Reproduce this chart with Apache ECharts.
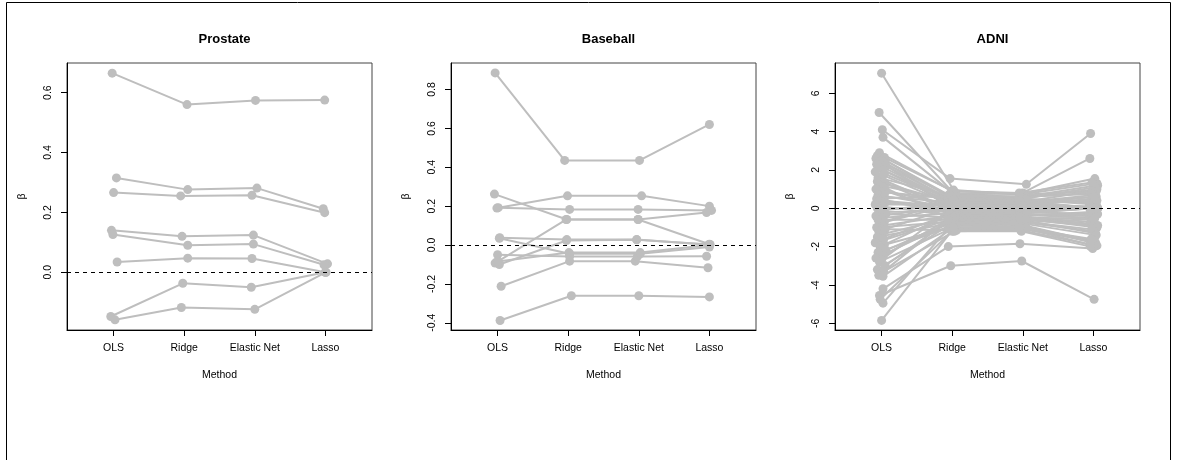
<!DOCTYPE html>
<html>
<head>
<meta charset="utf-8">
<script src="https://cdn.jsdelivr.net/npm/echarts@6/dist/echarts.min.js"></script>
<style>
  html, body { margin: 0; padding: 0; background: #fff; }
  #chart { width: 1177px; height: 460px; }
</style>
</head>
<body>
<div id="chart"></div>
<script>
// methods on the x axis, one row per coefficient: [OLS, Ridge, Elastic Net, Lasso]
var methods = ['OLS', 'Ridge', 'Elastic Net', 'Lasso'];
var panelTitles = ['Prostate', 'Baseball', 'ADNI'];

var prostateTicks = [0, 0.2, 0.4, 0.6];
var baseballTicks = [-0.4, -0.2, 0, 0.2, 0.4, 0.6, 0.8];
var adniTicks = [-6, -4, -2, 0, 2, 4, 6];

var prostateBeta = [
  [0.665, 0.560, 0.574, 0.575],
  [0.315, 0.276, 0.281, 0.212],
  [0.266, 0.255, 0.257, 0.199],
  [0.140, 0.120, 0.124, 0.028],
  [0.126, 0.090, 0.094, 0.025],
  [0.034, 0.047, 0.046, 0.000],
  [-0.148, -0.037, -0.050, 0.000],
  [-0.159, -0.118, -0.124, 0.000]
];
// horizontal jitter of each point (in method units), as seen in the plot
var prostateJitter = [
  [-0.02, 0.04, 0.01, -0.01],
  [0.04, 0.05, 0.03, -0.03],
  [0.00, -0.05, -0.04, -0.01],
  [-0.03, -0.03, -0.02, 0.03],
  [-0.01, 0.05, -0.02, -0.02],
  [0.05, 0.05, -0.04, 0.00],
  [-0.04, -0.02, -0.05, 0.00],
  [0.02, -0.04, 0.00, 0.01]
];

var baseballBeta = [
  [0.885, 0.435, 0.435, 0.620],
  [0.262, 0.131, 0.131, 0.004],
  [0.190, 0.253, 0.253, 0.200],
  [0.192, 0.183, 0.183, 0.178],
  [-0.093, 0.131, 0.131, 0.167],
  [-0.100, 0.023, 0.027, 0.003],
  [0.035, -0.045, -0.045, -0.010],
  [0.038, 0.028, 0.028, 0.002],
  [-0.212, -0.083, -0.083, -0.117],
  [-0.388, -0.261, -0.261, -0.267],
  [-0.050, -0.059, -0.059, -0.058],
  [-0.085, -0.039, -0.039, 0.000]
];
var baseballJitter = [
  [-0.035, -0.05, 0.01, 0.00],
  [-0.045, -0.02, -0.01, 0.00],
  [-0.01, -0.01, 0.04, 0.00],
  [0.01, 0.02, -0.01, 0.03],
  [-0.035, -0.03, -0.01, -0.04],
  [0.025, -0.025, -0.03, 0.01],
  [0.025, 0.02, 0.02, 0.00],
  [0.03, -0.02, -0.03, -0.01],
  [0.05, 0.02, -0.05, -0.02],
  [0.035, 0.045, 0.00, 0.00],
  [0.00, 0.02, -0.02, -0.04],
  [0.00, 0.01, 0.02, 0.00]
];

var adniBeta = [
  [7.05, 0.95, 0.70, 0.90],
  [5.00, 0.90, 0.75, 1.30],
  [4.10, 1.55, 1.25, 3.90],
  [3.70, 0.70, 0.80, 2.60],
  [-5.85, -1.10, -0.90, -1.80],
  [-4.95, -0.90, -0.95, -1.70],
  [-4.75, -1.20, -1.15, -1.95],
  [-4.55, -3.00, -2.75, -4.75],
  [-4.20, -2.00, -1.85, -2.10],
  [2.90, 0.80, 0.75, 1.55],
  [2.75, 0.60, 0.60, 1.20],
  [2.65, 0.90, 0.80, 1.35],
  [2.60, 0.50, 0.55, 1.00],
  [2.50, 0.70, 0.60, 0.80],
  [2.45, -0.20, -0.15, 0.00],
  [2.40, 0.40, 0.35, 0.60],
  [2.30, 0.30, 0.30, 0.00],
  [2.20, 0.55, 0.50, 1.10],
  [2.10, 0.20, 0.25, 0.40],
  [2.00, 0.45, 0.40, 0.00],
  [1.90, 0.10, 0.10, 0.00],
  [1.80, 0.35, 0.30, 0.70],
  [1.60, 0.60, 0.50, 0.30],
  [1.50, 0.00, 0.00, 0.00],
  [1.40, 0.25, 0.20, 0.50],
  [1.30, -0.10, -0.05, 0.00],
  [1.20, 0.40, 0.35, 0.90],
  [1.10, -0.55, -0.50, -0.90],
  [1.00, 0.15, 0.10, 0.00],
  [0.90, -0.20, -0.20, -0.30],
  [0.85, 0.50, 0.45, 0.20],
  [0.70, 0.05, 0.05, 0.00],
  [0.60, 0.30, 0.25, 0.40],
  [0.50, 0.65, 0.60, 0.75],
  [0.45, -0.30, -0.25, 0.00],
  [0.40, 0.10, 0.15, 0.10],
  [0.30, -0.05, 0.00, 0.00],
  [0.20, 0.20, 0.20, 0.60],
  [0.10, -0.40, -0.35, -0.50],
  [0.00, 0.00, 0.05, 0.00],
  [-0.10, 0.30, 0.25, 0.00],
  [-0.20, -0.15, -0.10, 0.00],
  [-0.30, -0.50, -0.45, -0.80],
  [-0.40, 0.05, 0.00, 0.00],
  [-0.50, -0.25, -0.20, 0.00],
  [-0.60, -0.60, -0.55, -1.00],
  [-0.70, 0.45, 0.40, 0.00],
  [-0.80, 0.15, 0.10, 0.00],
  [-0.90, -0.35, -0.30, -0.40],
  [-1.00, -0.70, -0.65, -1.30],
  [-1.10, -1.15, -1.10, -1.70],
  [-1.20, 0.00, -0.05, 0.00],
  [-1.35, -0.45, -0.40, -0.20],
  [-1.50, -0.80, -0.75, -1.20],
  [-1.60, -0.20, -0.20, 0.00],
  [-1.80, -0.55, -0.50, -0.70],
  [-1.90, -0.90, -0.85, -1.75],
  [-2.00, -0.30, -0.25, 0.00],
  [-2.20, -0.65, -0.60, -0.90],
  [-2.30, -1.00, -0.95, -1.80],
  [-2.50, -0.40, -0.35, -0.30],
  [-2.60, -0.75, -0.70, -1.10],
  [-2.70, 0.20, 0.15, 0.00],
  [-2.80, -1.10, -1.05, -1.90],
  [-3.00, -0.50, -0.45, -0.60],
  [-3.20, -0.85, -0.80, -1.40],
  [-3.30, -1.20, -1.20, -2.00],
  [-3.50, -0.60, -0.55, -0.50],
  [-3.55, -1.00, -1.00, -1.60]
];
var adniJitter = [
  [0.00, 0.02, -0.03, 0.04],
  [-0.035, -0.01, 0.03, 0.05],
  [0.01, -0.03, 0.05, -0.04],
  [0.02, 0.04, 0.00, -0.05],
  [0.00, 0.01, -0.02, 0.03],
  [0.02, -0.02, 0.04, -0.04],
  [-0.02, 0.00, -0.03, 0.05],
  [-0.03, -0.02, -0.015, 0.01],
  [0.02, -0.055, -0.04, -0.01],
  [-0.03, 0.05, -0.02, 0.02],
  [-0.06, -0.04, 0.03, 0.06],
  [0.04, 0.01, -0.05, -0.02],
  [-0.08, 0.03, 0.02, 0.05],
  [0.05, -0.05, 0.04, -0.03],
  [-0.02, 0.06, -0.01, 0.01],
  [0.03, -0.02, 0.05, 0.04],
  [-0.07, 0.04, -0.04, -0.05],
  [0.06, -0.06, 0.01, 0.03],
  [-0.04, 0.02, 0.06, -0.01],
  [0.02, -0.03, -0.05, 0.06],
  [-0.09, 0.05, 0.03, -0.04],
  [0.04, -0.01, -0.02, 0.02],
  [-0.05, 0.03, 0.04, -0.06],
  [0.01, -0.05, -0.03, 0.05],
  [-0.06, 0.06, 0.02, 0.00],
  [0.05, -0.04, -0.06, 0.03],
  [-0.03, 0.01, 0.05, -0.02],
  [0.03, -0.02, -0.01, 0.06],
  [-0.08, 0.04, 0.03, -0.05],
  [0.06, -0.06, -0.04, 0.01],
  [-0.01, 0.02, 0.06, 0.04],
  [-0.05, -0.03, -0.02, -0.03],
  [0.04, 0.05, 0.01, 0.05],
  [-0.07, -0.01, -0.05, -0.01],
  [0.02, 0.03, 0.04, 0.02],
  [-0.04, -0.05, -0.03, -0.06],
  [0.05, 0.06, 0.02, 0.04],
  [-0.09, -0.02, -0.06, 0.01],
  [0.01, 0.04, 0.05, -0.04],
  [-0.06, -0.04, -0.01, 0.06],
  [0.03, 0.01, 0.03, -0.02],
  [-0.02, -0.06, -0.04, 0.03],
  [0.06, 0.03, 0.06, -0.05],
  [-0.08, -0.01, -0.02, 0.02],
  [0.00, 0.05, 0.01, -0.03],
  [-0.05, -0.03, 0.04, 0.05],
  [0.04, 0.02, -0.05, -0.01],
  [-0.03, -0.05, 0.02, 0.04],
  [0.02, 0.04, -0.03, -0.06],
  [-0.07, -0.02, 0.05, 0.03],
  [0.05, 0.06, -0.01, -0.02],
  [-0.04, -0.04, 0.03, 0.06],
  [0.01, 0.01, -0.06, -0.04],
  [-0.06, -0.06, 0.04, 0.01],
  [0.03, 0.03, -0.02, 0.05],
  [-0.09, -0.01, 0.01, -0.03],
  [0.04, 0.05, -0.04, 0.02],
  [-0.02, -0.03, 0.06, -0.05],
  [0.06, 0.02, -0.03, 0.04],
  [-0.05, -0.05, 0.02, -0.01],
  [0.02, 0.04, -0.05, 0.06],
  [-0.08, -0.02, 0.03, -0.02],
  [0.00, 0.06, -0.01, 0.03],
  [-0.03, -0.04, 0.05, -0.05],
  [0.05, 0.01, -0.04, 0.01],
  [-0.06, -0.03, 0.01, 0.04],
  [0.03, 0.03, -0.02, -0.04],
  [-0.04, -0.06, 0.04, 0.02],
  [0.02, 0.02, -0.05, -0.03]
];

var grey = '#bebebe';
var font = '"Liberation Sans", Arial, Helvetica, sans-serif';
var panelLeft = [67, 451, 835];
var panelWidth = 305;
var yMin = [-0.193, -0.437, -6.35];
var yMax = [0.699, 0.936, 7.58];
var yTicks = [prostateTicks, baseballTicks, adniTicks];
var yDigits = [1, 1, 0];

var chart = echarts.init(document.getElementById('chart'), null, { renderer: 'canvas' });

function lineSeries(betas, jit, gi) {
  return betas.map(function (b, i) {
    return {
      type: 'line',
      xAxisIndex: gi,
      yAxisIndex: gi,
      data: b.map(function (v, k) { return [k + 1 + jit[i][k], v]; }),
      symbol: 'circle',
      symbolSize: 9,
      showSymbol: true,
      lineStyle: { color: grey, width: 2 },
      itemStyle: { color: grey },
      silent: true,
      animation: false
    };
  });
}

var grids = [], xAxes = [], yAxes = [], titles = [], series = [];
for (var g = 0; g < 3; g++) {
  grids.push({
    left: panelLeft[g], top: 63, width: panelWidth, height: 267,
    show: true, borderColor: '#444', borderWidth: 1, backgroundColor: 'transparent'
  });
  xAxes.push({
    type: 'value', gridIndex: g, min: 0.34, max: 4.66,
    name: 'Method', nameLocation: 'middle', nameGap: 40,
    nameTextStyle: { fontSize: 10.5, color: '#000', fontFamily: font },
    axisLine: { show: true, onZero: false, lineStyle: { color: '#000', width: 1 } },
    axisTick: { show: true, length: 6, customValues: [1, 2, 3, 4], lineStyle: { color: '#000' } },
    axisLabel: {
      customValues: [1, 2, 3, 4], margin: 13, fontSize: 10.5, color: '#000', fontFamily: font,
      formatter: function (v) { return methods[Math.round(v) - 1]; }
    },
    splitLine: { show: false }
  });
  (function (d) {
    yAxes.push({
      type: 'value', gridIndex: g, min: yMin[g], max: yMax[g],
      name: 'β', nameLocation: 'middle', nameGap: 39, nameRotate: 90,
      nameTextStyle: { fontSize: 10.5, color: '#000', fontFamily: font },
      axisLine: { show: true, onZero: false, lineStyle: { color: '#000', width: 1 } },
      axisTick: { show: true, length: 6, customValues: yTicks[g], lineStyle: { color: '#000' } },
      axisLabel: {
        customValues: yTicks[g], rotate: 90, margin: 13, fontSize: 10.5, color: '#000', fontFamily: font,
        formatter: function (v) { return v.toFixed(d); }
      },
      splitLine: { show: false }
    });
  })(yDigits[g]);
  titles.push({
    text: panelTitles[g], left: panelLeft[g] + panelWidth / 2, top: 28, textAlign: 'center',
    textStyle: { fontSize: 13, fontWeight: 'bold', color: '#000', fontFamily: font }
  });
}

series = series.concat(lineSeries(prostateBeta, prostateJitter, 0));
series = series.concat(lineSeries(baseballBeta, baseballJitter, 1));
series = series.concat(lineSeries(adniBeta, adniJitter, 2));

// dashed zero reference line in each panel
for (var z = 0; z < 3; z++) {
  series.push({
    type: 'line', xAxisIndex: z, yAxisIndex: z, data: [], silent: true, animation: false,
    markLine: {
      silent: true, symbol: 'none', animation: false, z: 10,
      label: { show: false },
      lineStyle: { color: '#000', width: 1, type: [4, 4] },
      data: [{ yAxis: 0 }]
    }
  });
}

chart.setOption({
  backgroundColor: '#fff',
  animation: false,
  title: titles,
  grid: grids,
  xAxis: xAxes,
  yAxis: yAxes,
  series: series,
  graphic: [{
    type: 'rect', silent: true,
    shape: { x: 6.5, y: 2.5, width: 1164, height: 480 },
    style: { fill: 'none', stroke: '#000', lineWidth: 1 }
  }]
});
</script>
</body>
</html>
